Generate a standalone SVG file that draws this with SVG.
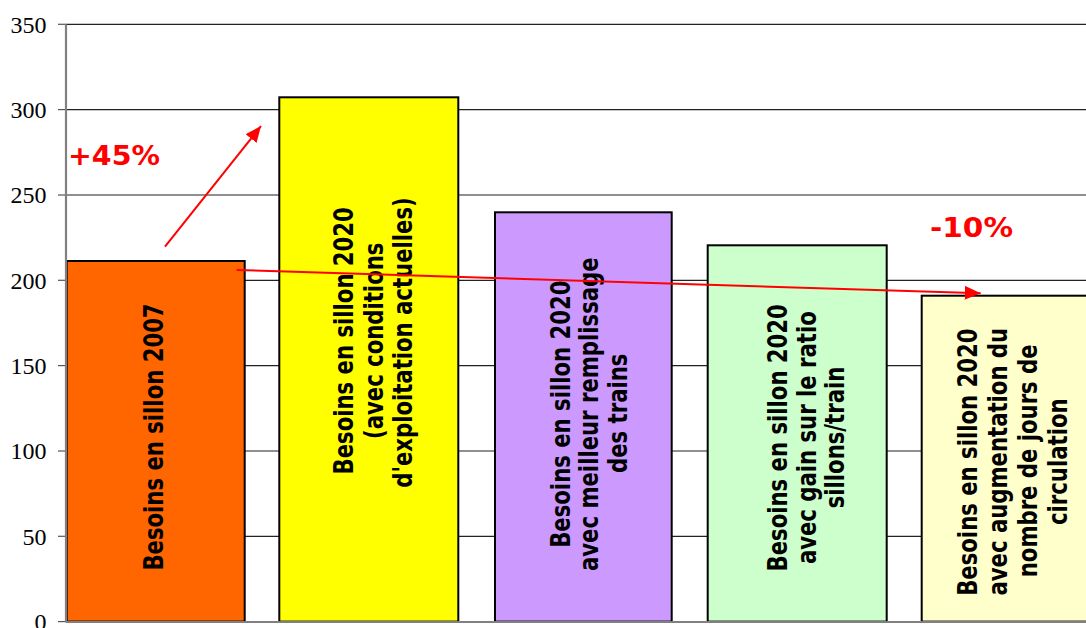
<svg xmlns="http://www.w3.org/2000/svg" width="1086" height="628" viewBox="0 0 1086 628">
<style>
.grid{stroke:#222;stroke-width:1.2;fill:none}
.tick{stroke:#555;stroke-width:1.2}
.axis{stroke:#808080;stroke-width:2.2;fill:none}
.ylab{font-family:"Liberation Serif","Times New Roman",serif;font-size:24px;fill:#000;text-anchor:end}
.bar{stroke:#000;stroke-width:2}
.lab{font-family:"DejaVu Sans","Verdana",sans-serif;font-weight:bold;font-size:21.2px;fill:#000;text-anchor:middle}
.pct{font-family:"DejaVu Sans","Verdana",sans-serif;font-weight:bold;font-size:26px;fill:#FF0000}
.arr{stroke:#FF0000;stroke-width:2;fill:none}
</style>
<defs>
<marker id="ah" markerUnits="userSpaceOnUse" markerWidth="17" markerHeight="15" refX="16" refY="7" orient="auto">
<path d="M0,0 L16,7 L0,14 z" fill="#FF0000"/>
</marker>
</defs>
<rect width="1086" height="628" fill="#fff"/>
<g id="gridlines">
<line class="grid" x1="66" y1="24.3" x2="1086" y2="24.3"/>
<line class="grid" x1="66" y1="109.6" x2="1086" y2="109.6"/>
<line class="grid" x1="66" y1="195" x2="1086" y2="195"/>
<line class="grid" x1="66" y1="280.3" x2="1086" y2="280.3"/>
<line class="grid" x1="66" y1="365.6" x2="1086" y2="365.6"/>
<line class="grid" x1="66" y1="451" x2="1086" y2="451"/>
<line class="grid" x1="66" y1="536.3" x2="1086" y2="536.3"/>
</g>
<g id="axis">
<line class="tick" x1="58" y1="24.3" x2="66" y2="24.3"/>
<line class="tick" x1="58" y1="109.6" x2="66" y2="109.6"/>
<line class="tick" x1="58" y1="195" x2="66" y2="195"/>
<line class="tick" x1="58" y1="280.3" x2="66" y2="280.3"/>
<line class="tick" x1="58" y1="365.6" x2="66" y2="365.6"/>
<line class="tick" x1="58" y1="451" x2="66" y2="451"/>
<line class="tick" x1="58" y1="536.3" x2="66" y2="536.3"/>
<line class="tick" x1="58" y1="621.6" x2="66" y2="621.6"/>
<text class="ylab" x="46.5" y="32.5">350</text>
<text class="ylab" x="46.5" y="117.8">300</text>
<text class="ylab" x="46.5" y="203.2">250</text>
<text class="ylab" x="46.5" y="288.5">200</text>
<text class="ylab" x="46.5" y="373.8">150</text>
<text class="ylab" x="46.5" y="459.2">100</text>
<text class="ylab" x="46.5" y="544.5">50</text>
<text class="ylab" x="46.5" y="629.8">0</text>
</g>
<g id="bar1">
<rect class="bar" x="66.7" y="261" width="178" height="360.6" fill="#FF6600"/>
<text class="lab" transform="translate(162.7,437) rotate(-90) scale(1,1.23)">Besoins en sillon 2007</text>
</g>
<g id="bar2">
<rect class="bar" x="279.3" y="97.3" width="179" height="524.3" fill="#FFFF00"/>
<text class="lab" transform="translate(353.3,340.8) rotate(-90) scale(1,1.23)">Besoins en sillon 2020</text>
<text class="lab" transform="translate(382.5,340.8) rotate(-90) scale(1,1.23)">(avec conditions</text>
<text class="lab" transform="translate(411.7,342.5) rotate(-90) scale(1,1.23)">d'exploitation actuelles)</text>
</g>
<g id="bar3">
<rect class="bar" x="495" y="212.3" width="176.7" height="409.3" fill="#CC99FF"/>
<text class="lab" transform="translate(570,414.2) rotate(-90) scale(1,1.23)">Besoins en sillon 2020</text>
<text class="lab" transform="translate(598.3,414.2) rotate(-90) scale(1,1.23)">avec meilleur remplissage</text>
<text class="lab" transform="translate(626.7,413.3) rotate(-90) scale(1,1.23)">des trains</text>
</g>
<g id="bar4">
<rect class="bar" x="707.7" y="245.3" width="179" height="376.3" fill="#CCFFCC"/>
<text class="lab" transform="translate(786.7,437.8) rotate(-90) scale(1,1.23)">Besoins en sillon 2020</text>
<text class="lab" transform="translate(816,437.7) rotate(-90) scale(1,1.23)">avec gain sur le ratio</text>
<text class="lab" transform="translate(844,437.5) rotate(-90) scale(1,1.23)">sillons/train</text>
</g>
<g id="bar5">
<rect class="bar" x="921.7" y="295.7" width="180" height="325.9" fill="#FFFFCC"/>
<text class="lab" transform="translate(977.3,462.2) rotate(-90) scale(1,1.23)">Besoins en sillon 2020</text>
<text class="lab" transform="translate(1007.3,461.7) rotate(-90) scale(1,1.23)">avec augmentation du</text>
<text class="lab" transform="translate(1036.7,460.8) rotate(-90) scale(1,1.23)">nombre de jours de</text>
<text class="lab" transform="translate(1066.7,461.7) rotate(-90) scale(1,1.23)">circulation</text>
</g>
<g id="axes-lines">
<line class="axis" x1="66" y1="24.3" x2="66" y2="622"/>
<line class="axis" x1="66" y1="622" x2="1086" y2="622"/>
</g>
<g id="connectors">
<line class="arr" x1="165" y1="246.7" x2="261" y2="126" marker-end="url(#ah)"/>
<line class="arr" x1="236.7" y1="270" x2="980.7" y2="293.3" marker-end="url(#ah)"/>
</g>
<g id="annotations">
<text class="pct" x="68" y="165.3" textLength="92" lengthAdjust="spacingAndGlyphs">+45%</text>
<text class="pct" x="930" y="236.7" textLength="83" lengthAdjust="spacingAndGlyphs">-10%</text>
</g>
</svg>
